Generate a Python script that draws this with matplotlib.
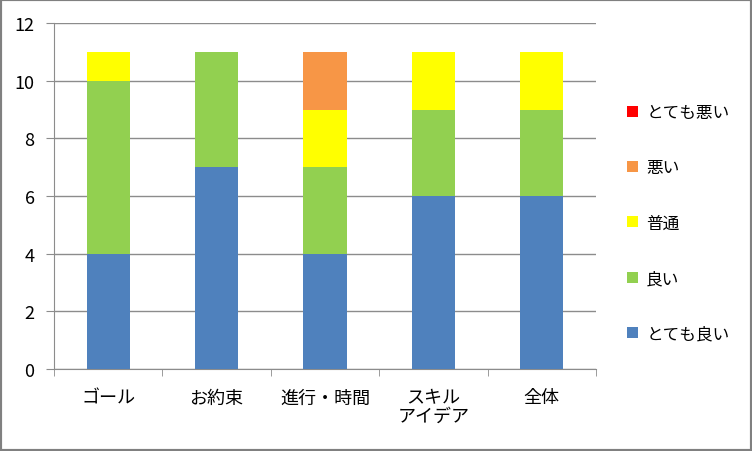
import numpy as np
import matplotlib.pyplot as plt
from matplotlib.patches import Patch

plt.rcParams['font.family'] = ['Noto Sans CJK JP', 'DejaVu Sans']

categories = ["ゴール", "お約束", "進行・時間", "スキル\nアイデア", "全体"]
series_names = ["とても良い", "良い", "普通", "悪い", "とても悪い"]
colors = ["#4F81BD", "#92D050", "#FFFF00", "#F79646", "#FF0000"]
very_good = [4, 7, 4, 6, 6]
good = [6, 4, 3, 3, 3]
normal = [1, 0, 2, 2, 2]
bad = [0, 0, 2, 0, 0]
very_bad = [0, 0, 0, 0, 0]
values = [very_good, good, normal, bad, very_bad]

fig = plt.figure(figsize=(7.52, 4.52), dpi=100)
ax = fig.add_axes([54/752, 1 - 370/452, (596-54)/752, (370-24)/452])

x = np.arange(len(categories))
bottom = np.zeros(len(categories))
for name, vals, c in zip(series_names, values, colors):
    ax.bar(x, vals, 0.4, bottom=bottom, color=c, label=name, zorder=3)
    bottom += np.array(vals)

ax.set_xlim(-0.5, len(categories) - 0.5)
ax.set_ylim(0, 12)
ax.set_yticks(range(0, 13, 2))
ax.grid(axis='y', color='#8c8c8c', linewidth=1, zorder=0)
ax.set_xticks(x)
ax.set_xticklabels(categories, fontsize=13, linespacing=1.05)
ax.set_xticks(np.arange(-0.5, len(categories)), minor=True)
ax.tick_params(axis='x', which='major', length=0, pad=14)
ax.tick_params(axis='x', which='minor', length=5, color='#8c8c8c')
ax.tick_params(axis='y', length=6, color='#8c8c8c', labelsize=13, pad=8)
for s in ['top', 'right']:
    ax.spines[s].set_visible(False)
for s in ['left', 'bottom']:
    ax.spines[s].set_color('#8c8c8c')

handles = [Patch(facecolor=c, label=n) for n, c in zip(series_names, colors)][::-1]
fig.legend(handles=handles, loc='upper left', bbox_to_anchor=(612/752, 1 - 90/452),
           frameon=False, fontsize=12, handlelength=0.65, handleheight=0.65,
           handletextpad=0.5, labelspacing=2.3)

fig.patches.append(plt.Rectangle((0, 0), 1, 1, transform=fig.transFigure,
                                 fill=False, edgecolor='#808080', linewidth=3))
fig.savefig("out.png", dpi=100)
